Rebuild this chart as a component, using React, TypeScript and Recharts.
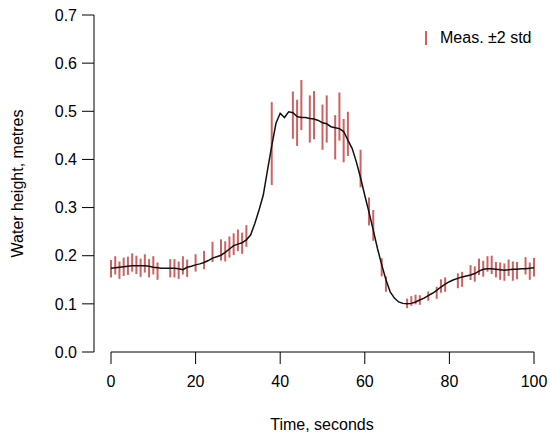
import React from 'react';
import { ComposedChart, Line, Scatter, ErrorBar, XAxis, YAxis, ReferenceLine, Legend } from 'recharts';

// Filtered estimate (black line), one value per second
const lineTimes = [
  0, 1, 2, 3, 4, 5, 6, 7, 8, 9, 10, 11, 12, 13, 14, 15, 16, 17, 18, 19, 20,
  21, 22, 23, 24, 25, 26, 27, 28, 29, 30, 31, 32, 33, 34, 35, 36, 37, 38, 39, 40,
  41, 42, 43, 44, 45, 46, 47, 48, 49, 50, 51, 52, 53, 54, 55, 56, 57, 58, 59, 60,
  61, 62, 63, 64, 65, 66, 67, 68, 69, 70, 71, 72, 73, 74, 75, 76, 77, 78, 79, 80,
  81, 82, 83, 84, 85, 86, 87, 88, 89, 90, 91, 92, 93, 94, 95, 96, 97, 98, 99, 100,
];
const lineValues = [
  0.174, 0.175, 0.176, 0.177, 0.178, 0.179, 0.179, 0.179, 0.179, 0.178, 0.176,
  0.175, 0.174, 0.174, 0.174, 0.174, 0.173, 0.171, 0.176, 0.178, 0.181,
  0.183, 0.186, 0.19, 0.195, 0.198, 0.201, 0.207, 0.214, 0.221, 0.224,
  0.227, 0.233, 0.243, 0.267, 0.295, 0.326, 0.378, 0.428, 0.475, 0.496,
  0.487, 0.499, 0.497, 0.489, 0.487, 0.487, 0.485, 0.484, 0.481, 0.476,
  0.474, 0.468, 0.466, 0.464, 0.458, 0.44, 0.423, 0.395, 0.362, 0.325,
  0.29, 0.253, 0.215, 0.181, 0.15, 0.125, 0.112, 0.104, 0.101, 0.1,
  0.101, 0.104, 0.108, 0.112, 0.117, 0.122, 0.128, 0.135, 0.141, 0.146,
  0.15, 0.153, 0.156, 0.158, 0.16, 0.163, 0.168, 0.172, 0.173, 0.173,
  0.172, 0.171, 0.17, 0.171, 0.172, 0.172, 0.173, 0.173, 0.174, 0.175,
];

// Measurements with ±2 std half-widths
const measTimes = [
  0, 1, 2, 3, 4, 5, 6, 7, 8, 9, 10, 11, 14, 15, 16, 17, 18, 20, 22, 24,
  26, 27, 28, 29, 30, 31, 32, 38, 43, 44, 45, 47, 48, 50, 51, 53, 54, 55, 56,
  59, 61, 62, 64, 65, 70, 71, 72, 73, 75, 77, 78, 79, 82, 83,
  85, 86, 87, 88, 89, 90, 91, 92, 93, 94, 95, 96, 98, 99, 100,
];
const measValues = [
  0.173, 0.18, 0.17, 0.177, 0.179, 0.186, 0.181, 0.175, 0.184, 0.174, 0.18, 0.168,
  0.174, 0.174, 0.17, 0.18, 0.174, 0.185, 0.191, 0.208,
  0.212, 0.209, 0.218, 0.224, 0.232, 0.226, 0.241, 0.433, 0.492, 0.476, 0.513,
  0.484, 0.492, 0.467, 0.484, 0.446, 0.489, 0.439, 0.453,
  0.381, 0.292, 0.263, 0.176, 0.141, 0.101, 0.106, 0.109, 0.108, 0.116,
  0.123, 0.137, 0.14, 0.148, 0.151,
  0.165, 0.162, 0.177, 0.173, 0.183, 0.181, 0.171, 0.168, 0.166, 0.175, 0.168, 0.169,
  0.179, 0.168, 0.176,
];
const measTwoStd = [
  0.018, 0.019, 0.018, 0.019, 0.019, 0.019, 0.019, 0.019, 0.019, 0.019, 0.019, 0.018,
  0.019, 0.019, 0.018, 0.019, 0.018, 0.018, 0.019, 0.021,
  0.022, 0.021, 0.022, 0.0225, 0.0225, 0.022, 0.0225, 0.086, 0.049, 0.048, 0.052,
  0.049, 0.05, 0.047, 0.049, 0.046, 0.05, 0.045, 0.046,
  0.039, 0.029, 0.032, 0.019, 0.016, 0.01, 0.01, 0.01, 0.01, 0.0095,
  0.0125, 0.014, 0.015, 0.0155, 0.0155,
  0.0155, 0.016, 0.017, 0.0165, 0.016, 0.019, 0.016, 0.018, 0.018, 0.017, 0.02, 0.018,
  0.018, 0.018, 0.019,
];

const xTicks = [0, 20, 40, 60, 80, 100];
const yTicks = [0, 0.1, 0.2, 0.3, 0.4, 0.5, 0.6, 0.7];
const legendLabel = 'Meas. \u00b12 std';
const xTitle = 'Time, seconds';
const yTitle = 'Water height, metres';

const lineData = lineTimes.map((t, i) => ({ t, v: lineValues[i] }));
const measData = measTimes.map((t, i) => ({ t, v: measValues[i], e: measTwoStd[i] }));

const FONT = '"Liberation Sans", Arial, Helvetica, sans-serif';
const BAR_COLOR = 'rgba(180, 25, 25, 0.68)';

const LegendContent = () => (
  <div style={{ display: 'flex', alignItems: 'center', fontFamily: FONT, fontSize: 16, color: '#000', whiteSpace: 'nowrap' }}>
    <svg width={14} height={16} style={{ display: 'block' }}>
      <line x1={6} y1={1} x2={6} y2={15} stroke={BAR_COLOR} strokeWidth={2} />
    </svg>
    <span style={{ marginLeft: 6 }}>{legendLabel}</span>
  </div>
);

export default function App() {
  return (
    <div style={{ position: 'absolute', left: 0, top: 0, width: 550, height: 433 }}>
      <ComposedChart
        width={550}
        height={433}
        margin={{ top: 15, right: 0, bottom: 0, left: 0 }}
        style={{ fontFamily: FONT }}
      >
        <XAxis
          type="number"
          dataKey="t"
          domain={[0, 100]}
          ticks={xTicks}
          padding={{ left: 17, right: 16 }}
          axisLine={false}
          tickLine={{ stroke: '#000' }}
          tickSize={12}
          tickMargin={12}
          height={81}
          tick={{ fill: '#000', fontSize: 16, fontFamily: FONT }}
          label={{ value: xTitle, position: 'insideBottom', offset: 3, fill: '#000', fontSize: 16, fontFamily: FONT }}
        />
        <YAxis
          type="number"
          dataKey="v"
          domain={[0, 0.7]}
          ticks={yTicks}
          width={94}
          axisLine={{ stroke: '#000' }}
          tickLine={{ stroke: '#000' }}
          tickSize={12}
          tickMargin={5}
          tickFormatter={(v: number) => v.toFixed(1)}
          tick={{ fill: '#000', fontSize: 16, fontFamily: FONT }}
          label={{ value: yTitle, angle: -90, position: 'insideLeft', offset: 17, fill: '#000', fontSize: 16, fontFamily: FONT, style: { textAnchor: 'middle' } }}
        />
        <ReferenceLine segment={[{ x: 0, y: 0 }, { x: 100, y: 0 }]} stroke="#000" strokeWidth={1} />
        <Scatter data={measData} dataKey="v" isAnimationActive={false} shape={() => <g />} legendType="none">
          <ErrorBar dataKey="e" direction="y" width={0} stroke={BAR_COLOR} strokeWidth={2} isAnimationActive={false} />
        </Scatter>
        <Line
          data={lineData}
          dataKey="v"
          type="linear"
          stroke="#111"
          strokeWidth={1.5}
          dot={false}
          activeDot={false}
          isAnimationActive={false}
          legendType="none"
        />
        <Legend
          layout="horizontal"
          verticalAlign="middle"
          align="center"
          content={<LegendContent />}
          wrapperStyle={{ position: 'absolute', top: 29, left: 420, width: 'auto', right: 'auto', bottom: 'auto' }}
        />
      </ComposedChart>
    </div>
  );
}
